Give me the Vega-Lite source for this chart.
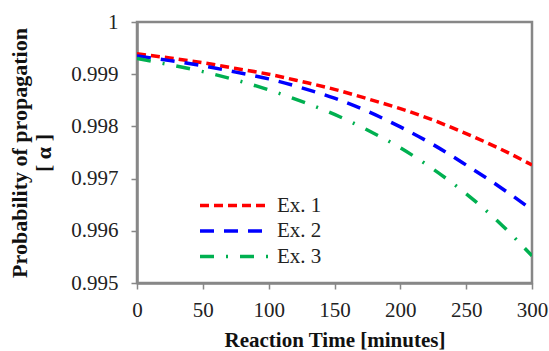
{
  "$schema": "https://vega.github.io/schema/vega-lite/v6.json",
  "width": 395,
  "height": 261,
  "autosize": {"type": "none"},
  "padding": {"left": 137, "top": 22, "right": 17, "bottom": 68},
  "background": "white",
  "config": {
    "view": {"stroke": "#878787", "strokeWidth": 2.5},
    "font": "Liberation Serif",
    "axis": {
      "grid": false,
      "domainColor": "#878787",
      "domainWidth": 2.5,
      "tickColor": "#878787",
      "tickWidth": 1.5,
      "tickSize": 6,
      "labelFont": "Liberation Serif",
      "labelFontSize": 21,
      "labelColor": "#222222",
      "titleFont": "Liberation Serif",
      "titleFontSize": 21,
      "titleFontWeight": "bold",
      "titleColor": "#111111"
    }
  },
  "data": {
    "values": [
      {"t": 0, "series": "Ex. 1", "p": 0.99939},
      {"t": 25, "series": "Ex. 1", "p": 0.99931},
      {"t": 50, "series": "Ex. 1", "p": 0.99922},
      {"t": 75, "series": "Ex. 1", "p": 0.99911},
      {"t": 100, "series": "Ex. 1", "p": 0.99900},
      {"t": 125, "series": "Ex. 1", "p": 0.99886},
      {"t": 150, "series": "Ex. 1", "p": 0.99871},
      {"t": 175, "series": "Ex. 1", "p": 0.99853},
      {"t": 200, "series": "Ex. 1", "p": 0.99834},
      {"t": 225, "series": "Ex. 1", "p": 0.99812},
      {"t": 250, "series": "Ex. 1", "p": 0.99786},
      {"t": 275, "series": "Ex. 1", "p": 0.99758},
      {"t": 300, "series": "Ex. 1", "p": 0.99726},
      {"t": 0, "series": "Ex. 2", "p": 0.99935},
      {"t": 25, "series": "Ex. 2", "p": 0.99926},
      {"t": 50, "series": "Ex. 2", "p": 0.99916},
      {"t": 75, "series": "Ex. 2", "p": 0.99904},
      {"t": 100, "series": "Ex. 2", "p": 0.99891},
      {"t": 125, "series": "Ex. 2", "p": 0.99874},
      {"t": 150, "series": "Ex. 2", "p": 0.99854},
      {"t": 175, "series": "Ex. 2", "p": 0.99829},
      {"t": 200, "series": "Ex. 2", "p": 0.99799},
      {"t": 225, "series": "Ex. 2", "p": 0.99765},
      {"t": 250, "series": "Ex. 2", "p": 0.99726},
      {"t": 275, "series": "Ex. 2", "p": 0.99685},
      {"t": 300, "series": "Ex. 2", "p": 0.99640},
      {"t": 0, "series": "Ex. 3", "p": 0.99930},
      {"t": 25, "series": "Ex. 3", "p": 0.99918},
      {"t": 50, "series": "Ex. 3", "p": 0.99905},
      {"t": 75, "series": "Ex. 3", "p": 0.99889},
      {"t": 100, "series": "Ex. 3", "p": 0.99870},
      {"t": 125, "series": "Ex. 3", "p": 0.99848},
      {"t": 150, "series": "Ex. 3", "p": 0.99823},
      {"t": 175, "series": "Ex. 3", "p": 0.99793},
      {"t": 200, "series": "Ex. 3", "p": 0.99759},
      {"t": 225, "series": "Ex. 3", "p": 0.99718},
      {"t": 250, "series": "Ex. 3", "p": 0.99671},
      {"t": 275, "series": "Ex. 3", "p": 0.99616},
      {"t": 300, "series": "Ex. 3", "p": 0.99552}
    ]
  },
  "mark": {"type": "line", "strokeWidth": 3.5, "interpolate": "monotone", "clip": true},
  "encoding": {
    "x": {
      "field": "t",
      "type": "quantitative",
      "scale": {"domain": [0, 300], "nice": false},
      "axis": {"values": [0, 50, 100, 150, 200, 250, 300], "title": "Reaction Time [minutes]", "labelPadding": 10, "titlePadding": 9, "labelFlush": false}
    },
    "y": {
      "field": "p",
      "type": "quantitative",
      "scale": {"domain": [0.995, 1], "nice": false, "zero": false},
      "axis": {
        "values": [0.995, 0.996, 0.997, 0.998, 0.999, 1],
        "labelExpr": "datum.value >= 0.99999 ? '1' : format(datum.value, '.3f')",
        "title": ["Probability of propagation", "[ α ]"],
        "titleFontSize": 22,
        "titleLineHeight": 24,
        "labelPadding": 13,
        "titlePadding": 15,
        "labelFlush": false
      }
    },
    "color": {
      "field": "series",
      "type": "nominal",
      "scale": {"domain": ["Ex. 1", "Ex. 2", "Ex. 3"], "range": ["#FF0000", "#0000FF", "#00B050"]},
      "legend": {
        "title": null,
        "orient": "none",
        "legendX": 61,
        "legendY": 171,
        "symbolType": "stroke",
        "symbolSize": 4900,
        "symbolStrokeWidth": 3.5,
        "clipHeight": 25,
        "labelFont": "Liberation Serif",
        "labelFontSize": 21,
        "labelColor": "#222222",
        "labelOffset": 5,
        "rowPadding": 0.5
      }
    },
    "strokeDash": {
      "field": "series",
      "type": "nominal",
      "scale": {"domain": ["Ex. 1", "Ex. 2", "Ex. 3"], "range": [[9, 5], [14, 10], [14, 12, 2, 12]]},
      "legend": null
    }
  }
}
